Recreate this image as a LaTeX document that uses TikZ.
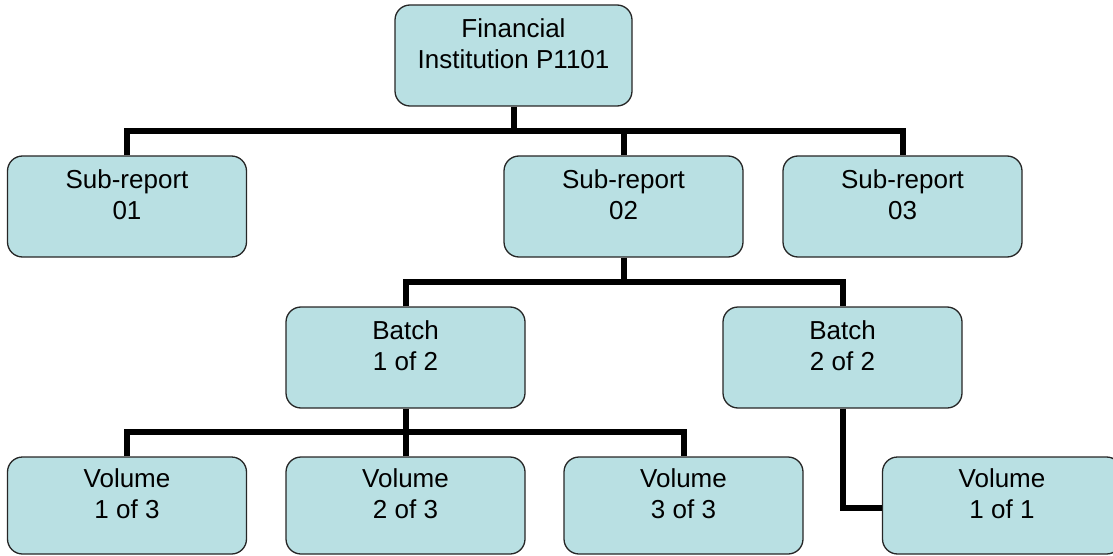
\documentclass[tikz,border=0pt]{standalone}
\usepackage{fontspec}
\setmainfont{Liberation Sans}
\definecolor{boxfill}{RGB}{185,224,227}
\begin{document}
\begin{tikzpicture}[x=1pt,y=-1pt,
  box/.style={draw=black!85, line width=1.3pt, fill=boxfill, rounded corners=15pt,
    minimum width=239pt, minimum height=101pt, inner sep=0pt},
  volbox/.style={box, minimum height=97pt},
  txt/.style={align=center, font=\fontsize{26}{31}\selectfont, yshift=12pt, inner sep=0pt},
  vtxt/.style={txt, yshift=-1.5pt},
  conn/.style={line width=6pt, draw=black}]
\useasboundingbox (0,0) rectangle (1113,556);
\clip (0,0) rectangle (1113,556);
\node[box, minimum width=237pt, label={[txt, name=ltop]center:Financial\\Institution P1101}] (top) at (513.5,55.5) {};
\node[box, label={[txt, name=ls1]center:Sub-report\\01}] (s1) at (127,206.5) {};
\node[box, label={[txt, name=ls2]center:Sub-report\\02}] (s2) at (623.5,206.5) {};
\node[box, label={[txt, name=ls3]center:Sub-report\\03}] (s3) at (902.5,206.5) {};
\node[box, label={[txt, name=lb1]center:Batch\\1 of 2}] (b1) at (405.5,357.5) {};
\node[box, label={[txt, name=lb2]center:Batch\\2 of 2}] (b2) at (842.5,357.5) {};
\node[volbox, label={[txt, name=lv1]center:Volume\\1 of 3}] (v1) at (127,505.5) {};
\node[volbox, label={[txt, name=lv2]center:Volume\\2 of 3}] (v2) at (405.5,505.5) {};
\node[volbox, label={[txt, name=lv3]center:Volume\\3 of 3}] (v3) at (683.5,505.5) {};
\node[volbox, label={[txt, name=lv4]center:Volume\\1 of 1}] (v4) at (1002,505.5) {};
% level 1 connectors
\coordinate (j1) at (513.5,131);
\draw[conn] (top.south) -- (j1);
\draw[conn] (s1.north) |- (j1) -| (s3.north);
\draw[conn] (s2.north) -- (s2.north |- j1);
% level 2 connectors
\coordinate (j2) at (623.5,282);
\draw[conn] (s2.south) -- (j2);
\draw[conn] (b1.north) |- (j2) -| (b2.north);
% level 3 connectors
\coordinate (j3) at (405.5,432);
\draw[conn] (b1.south) -- (j3);
\draw[conn] (v1.north) |- (j3) -| (v3.north);
\draw[conn] (v2.north) -- (j3);
\draw[conn] (b2.south) |- ([yshift=-2pt]v4.west);
\end{tikzpicture}
\end{document}
